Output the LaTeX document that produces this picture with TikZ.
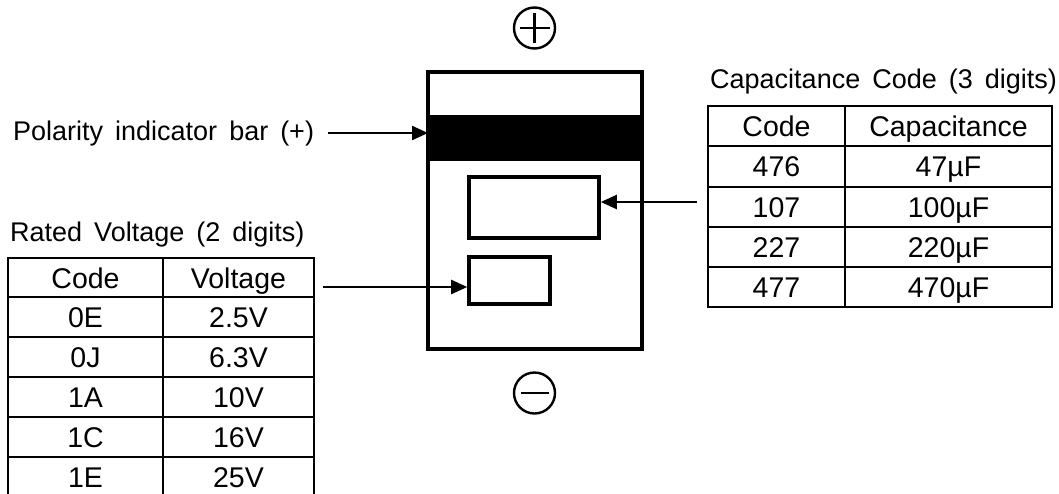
\documentclass[tikz,border=0pt]{standalone}
\usepackage{fontspec}
\setmainfont{Liberation Sans}
\newfontfamily\widefont[WordSpace=1.6]{Liberation Sans}
\usetikzlibrary{arrows.meta}
\begin{document}
\begin{tikzpicture}[x=1pt,y=-1pt,
  txt/.style={font=\fontsize{28.5}{33}\selectfont, inner sep=0pt},
  title/.style={font=\widefont\fontsize{27}{32}\selectfont, inner sep=0pt, anchor=base west},
  cell/.style={txt, text height=20.5pt, text depth=0pt, anchor=center},
  tbl/.style={line width=2.3pt},
  thick box/.style={draw, line width=3.6pt, inner sep=0pt},
  sign/.style={draw, circle, line width=2.4pt, minimum size=41pt, inner sep=0pt},
  arr/.style={line width=2.3pt, -{Triangle[length=16pt,width=14pt]}}]
\useasboundingbox (0,0) rectangle (1059,493);
\fill[white] (0,0) rectangle (1059,493);
\begin{scope}
\clip (0,0) rectangle (1059,493);

% capacitor body
\node[thick box, minimum width=214pt, minimum height=277pt] (body) at (535,210.5) {};
\node[fill=black, draw=black, line width=0pt, inner sep=0pt, minimum width=214pt, minimum height=45pt] (bar) at (535,137.5) {};
\node[thick box, minimum width=130pt, minimum height=61pt] (capbox) at (534,207.5) {};
\node[thick box, minimum width=81pt, minimum height=47pt] (voltbox) at (509.5,280.5) {};

% polarity signs
\node[sign] (plus) at (534.5,28) {};
\draw[line width=2.4pt] ([xshift=-15pt]plus.center) -- ([xshift=15pt]plus.center);
\draw[line width=2.4pt] ([yshift=-15pt]plus.center) -- ([yshift=15pt]plus.center);
\node[sign] (minus) at (534.5,393) {};
\draw[line width=2.4pt] ([xshift=-14pt]minus.center) -- ([xshift=14pt]minus.center);

% polarity label
\node[title] (pol) at (13,140) {Polarity indicator bar (+)};
\coordinate (polstart) at (328,133);
\draw[arr] (polstart) -- (bar.west |- polstart);

% rated voltage table
\node[title] (vtitle) at (10,241) {Rated Voltage (2 digits)};
\draw[tbl] (8,258) rectangle (314,497);
\foreach \yy in {297,337,377,417,457} \draw[tbl] (8,\yy) -- (314,\yy);
\draw[tbl] (163,258) -- (163,497);
\node[cell] (vh1) at (85.5,278) {Code};
\node[cell] (vh2) at (238.5,278) {Voltage};
\node[cell] (v1a) at (85.5,317) {0E};  \node[cell] (v1b) at (238.5,317) {2.5V};
\node[cell] (v2a) at (85.5,357) {0J};  \node[cell] (v2b) at (238.5,357) {6.3V};
\node[cell] (v3a) at (85.5,397) {1A};  \node[cell] (v3b) at (238.5,397) {10V};
\node[cell] (v4a) at (85.5,437) {1C};  \node[cell] (v4b) at (238.5,437) {16V};
\node[cell] (v5a) at (85.5,477) {1E};  \node[cell] (v5b) at (238.5,477) {25V};
\coordinate (vstart) at (323,287);
\draw[arr] (vstart) -- (voltbox.west |- vstart);

% capacitance table
\node[title] (ctitle) at (710,88) {Capacitance Code (3 digits)};
\draw[tbl] (708,106) rectangle (1052,307);
\foreach \yy in {146,187,227,267} \draw[tbl] (708,\yy) -- (1052,\yy);
\draw[tbl] (845,106) -- (845,307);
\node[cell] (ch1) at (776.5,126) {Code};
\node[cell] (ch2) at (948.5,126) {Capacitance};
\node[cell] (c1a) at (776.5,166.5) {476}; \node[cell] (c1b) at (948.5,166.5) {47µF};
\node[cell] (c2a) at (776.5,207) {107};   \node[cell] (c2b) at (948.5,207) {100µF};
\node[cell] (c3a) at (776.5,247) {227};   \node[cell] (c3b) at (948.5,247) {220µF};
\node[cell] (c4a) at (776.5,287) {477};   \node[cell] (c4b) at (948.5,287) {470µF};
\coordinate (cstart) at (697,202);
\draw[arr] (cstart) -- (capbox.east |- cstart);
\end{scope}
\end{tikzpicture}
\end{document}
